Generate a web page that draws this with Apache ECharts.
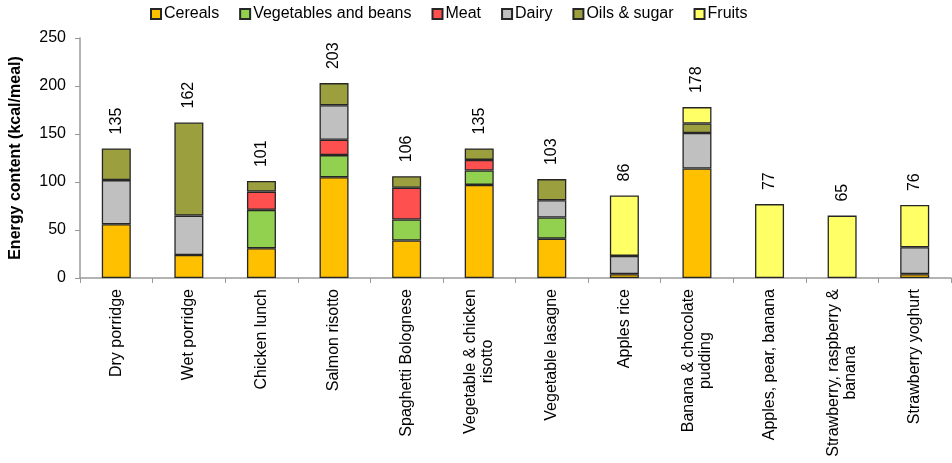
<!DOCTYPE html>
<html>
<head>
<meta charset="utf-8">
<script src="https://cdn.jsdelivr.net/npm/echarts@6/dist/echarts.min.js"></script>
<style>
html,body{margin:0;padding:0;background:#fff;}
#chart{width:952px;height:463px;}
</style>
</head>
<body>
<div id="chart"></div>
<script>
var categories = ['Dry porridge','Wet porridge','Chicken lunch','Salmon risotto','Spaghetti Bolognese','Vegetable & chicken\nrisotto','Vegetable lasagne','Apples rice','Banana & chocolate\npudding','Apples, pear, banana','Strawberry, raspberry &\nbanana','Strawberry yoghurt'];
var cereals    = [56, 24, 31, 105, 39, 97, 41, 4, 114, 0, 0, 4];
var vegetables = [0, 0, 40, 23, 22, 15, 22, 0, 0, 0, 0, 0];
var meat       = [0, 0, 19, 16, 33, 11, 0, 0, 0, 0, 0, 0];
var dairy      = [46, 41, 0, 36, 0, 0, 18, 19, 37, 0, 0, 28];
var oilsSugar  = [33, 97, 11, 23, 12, 12, 22, 0, 10, 0, 0, 0];
var fruits     = [0, 0, 0, 0, 0, 0, 0, 63, 17, 77, 65, 44];
var totals     = [135, 162, 101, 203, 106, 135, 103, 86, 178, 77, 65, 76];
var yTicks = {min: 0, max: 250, interval: 50};

var FONT = '"Liberation Sans", Arial, Helvetica, sans-serif';
var chart = echarts.init(document.getElementById('chart'));

function seg(name, data, color) {
  return {
    name: name, type: 'bar', stack: 'meal',
    data: data.map(function (v) { return v === 0 ? null : v; }),
    barWidth: 29, barGap: '-100%',
    itemStyle: {color: color, borderColor: '#262626', borderWidth: 1.3},
    emphasis: {disabled: true}
  };
}

var option = {
  animation: false,
  textStyle: {fontFamily: FONT},
  legend: {
    data: ['Cereals','Vegetables and beans','Meat','Dairy','Oils & sugar','Fruits'],
    top: 1, left: 145,
    icon: 'rect', itemWidth: 10, itemHeight: 10, itemGap: 20,
    textStyle: {fontSize: 16, color: '#000', fontFamily: FONT, padding: [0,0,0,-2]}
  },
  grid: {left: 80, right: 1, top: 38, bottom: 185, containLabel: false},
  xAxis: {
    type: 'category', data: categories,
    axisLine: {lineStyle: {color: '#9a9a9a', width: 1.5}},
    axisTick: {show: true, length: 5, lineStyle: {color: '#9a9a9a'}},
    axisLabel: {
      interval: 0, rotate: 90, margin: 11,
      fontSize: 16, color: '#000', fontFamily: FONT, lineHeight: 17,
      formatter: function (v) {
        return v.split('\n').map(function (l) { return '{c|' + l + '}'; }).join('\n');
      },
      rich: {c: {align: 'center', fontSize: 16, color: '#000', fontFamily: FONT, lineHeight: 17}}
    }
  },
  yAxis: {
    type: 'value', min: yTicks.min, max: yTicks.max, interval: yTicks.interval,
    name: 'Energy content (kcal/meal)', nameLocation: 'middle', nameGap: 56,
    nameTextStyle: {fontSize: 16, fontWeight: 'bold', color: '#000', fontFamily: FONT},
    axisLine: {show: true, lineStyle: {color: '#9a9a9a', width: 1.5}},
    axisTick: {show: true, length: 5, lineStyle: {color: '#9a9a9a'}},
    axisLabel: {fontSize: 16, color: '#000', margin: 14, fontFamily: FONT},
    splitLine: {show: false}
  },
  series: [
    seg('Cereals', cereals, '#FFC000'),
    seg('Vegetables and beans', vegetables, '#92D050'),
    seg('Meat', meat, '#FF5050'),
    seg('Dairy', dairy, '#C0C0C0'),
    seg('Oils & sugar', oilsSugar, '#9B9F3D'),
    seg('Fruits', fruits, '#FFFF66'),
    {
      name: 'Total', type: 'bar', stack: 'total', data: totals,
      barWidth: 29, barGap: '-100%', z: 1, silent: true,
      itemStyle: {color: 'rgba(0,0,0,0)', borderWidth: 0},
      label: {
        show: true, position: 'top', rotate: 90, distance: 14,
        align: 'left', verticalAlign: 'middle',
        fontSize: 16, color: '#000', fontFamily: FONT
      },
      emphasis: {disabled: true}
    }
  ]
};
chart.setOption(option);
</script>
</body>
</html>
